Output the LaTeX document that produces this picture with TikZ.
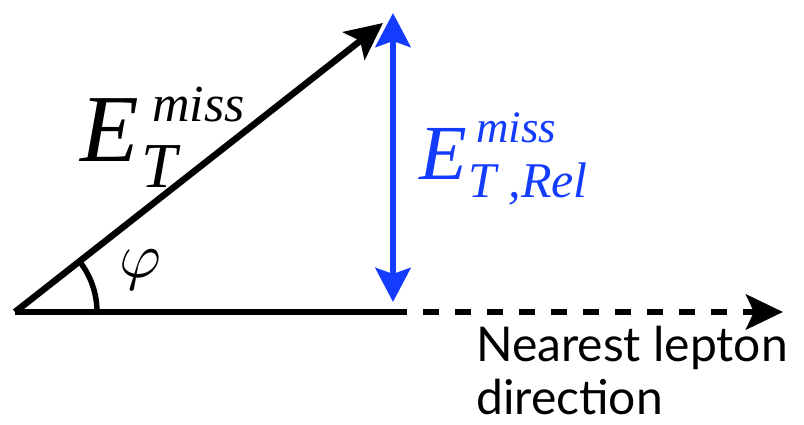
\documentclass[tikz,border=0pt]{standalone}
\usepackage{fontspec}
\setmainfont{Liberation Serif}
\newfontfamily\labelsans{Lato}
\usepackage{xcolor}
\usepackage{graphicx}
\usepackage{tikz}
\usetikzlibrary{arrows.meta, positioning, calc}
\definecolor{RelBlue}{RGB}{20, 60, 255}

\begin{document}
\begin{tikzpicture}[x=1pt, y=1pt,
    vec/.style={line width=6.5pt, -{Stealth[length=37pt, width=35pt, inset=8pt]}},
    relvec/.style={line width=6.5pt, draw=RelBlue,
        {Stealth[length=34pt, width=35pt, inset=6pt]}-{Stealth[length=34pt, width=35pt, inset=6pt]}},
    sym/.style={inner sep=0pt, anchor=base west, font=\itshape},
    dirtext/.style={inner sep=0pt, anchor=base west, font=\labelsans\fontsize{48}{55}\selectfont}]
    \useasboundingbox (0,0) rectangle (804,425);

    % Eckpunkte
    \coordinate (O) at (15,113);
    \coordinate (met) at (383,402);
    \coordinate (foot) at (391,113);
    \coordinate (lep) at (783,113);
    \coordinate (reltop) at (393,412);
    \coordinate (relbot) at (393,123);

    % MET-Vektor und Leptonrichtung
    \draw[line width=6.5pt] (O) -- (foot);
    \draw[vec, dash pattern=on 16pt off 16pt] (foot) -- (lep);
    \draw[vec] (O) -- (met);

    % Relative MET (blau)
    \draw[relvec] (relbot) -- (reltop);

    % Winkel
    \draw[line width=5.5pt] ($(O)+(0:82)$) arc[start angle=0, end angle=38, radius=82];
    \node (phi) at (140,155) {\scalebox{6.4}{$\varphi$}};

    % Beschriftung E_T^miss
    \node[sym] (etE) at (80,263) {\fontsize{96}{96}\selectfont E};
    \node[sym] (etT) at (141,237) {\fontsize{64}{64}\selectfont T};
    \node[sym] (etmiss) at (152,303) {\fontsize{52}{52}\selectfont miss};

    % Beschriftung E_T,Rel^miss
    \node[sym, text=RelBlue] (relE) at (419,245) {\fontsize{78}{78}\selectfont E};
    \node[sym, text=RelBlue] (relT) at (468,227) {\fontsize{50}{50}\selectfont T ,Rel};
    \node[sym, text=RelBlue] (relmiss) at (476,282) {\fontsize{45}{45}\selectfont miss};

    % Richtung
    \node[dirtext] (leptext) at (476,63) {Nearest lepton};
    \node[dirtext] (dirword) at (476,10) {direction};
\end{tikzpicture}
\end{document}
